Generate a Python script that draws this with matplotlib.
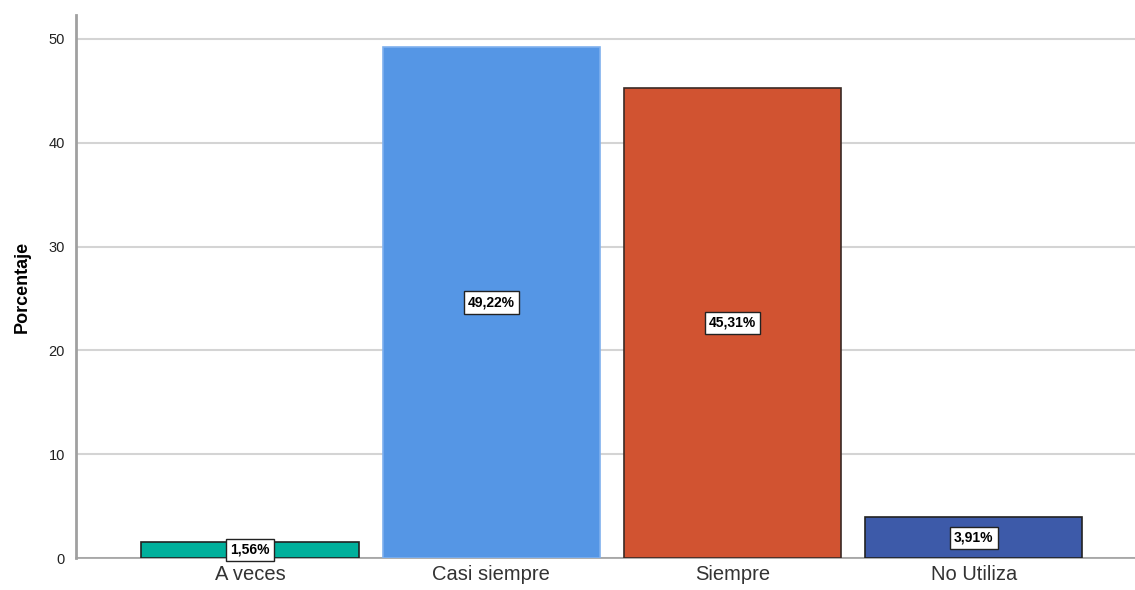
import matplotlib
matplotlib.use("Agg")
import matplotlib.pyplot as plt

plt.rcParams['font.family'] = ['Liberation Sans', 'DejaVu Sans']

categorias = ["A veces", "Casi siempre", "Siempre", "No Utiliza"]
porcentajes = [1.56, 49.22, 45.31, 3.91]
etiquetas = ["1,56%", "49,22%", "45,31%", "3,91%"]
colores = ["#00b09c", "#5596e5", "#d15331", "#3d5aa9"]
bordes = ["#222222", "#7fb0ee", "#3a2a25", "#222222"]
yticks = [0, 10, 20, 30, 40, 50]

fig = plt.figure(figsize=(11.35, 5.9), dpi=100)
ax = fig.add_axes([76 / 1135, 32 / 590, 1 - 76 / 1135, (558 - 15) / 590])

x = list(range(len(categorias)))
ax.bar(x, porcentajes, width=0.9, color=colores, edgecolor=bordes, linewidth=1.2, zorder=3)

for xi, v, lab in zip(x, porcentajes, etiquetas):
    ax.text(xi, v / 2, lab, ha='center', va='center', fontsize=10, fontweight='bold',
            zorder=5, bbox=dict(boxstyle='square,pad=0.3', fc='white', ec='#222222', lw=1))

ax.set_xlim(-0.721, 3.668)
ax.set_ylim(0, 52.3)
ax.set_yticks(yticks)
ax.set_xticks(x)
ax.set_xticklabels(categorias, fontsize=14.5, color='#333333')
ax.tick_params(axis='y', length=0, labelsize=10.5, pad=8, colors='#222222')
ax.tick_params(axis='x', length=0, pad=5)
ax.yaxis.grid(True, color='#d4d4d4', linewidth=1.5, zorder=0)
ax.set_axisbelow(True)

for side in ['top', 'right']:
    ax.spines[side].set_visible(False)
ax.spines['left'].set_color('#a0a0a0')
ax.spines['left'].set_linewidth(2)
ax.spines['bottom'].set_color('#a0a0a0')
ax.spines['bottom'].set_linewidth(1.2)

ax.set_ylabel('Porcentaje', fontsize=13, fontweight='bold', labelpad=13)

fig.savefig("out.png", dpi=100)
